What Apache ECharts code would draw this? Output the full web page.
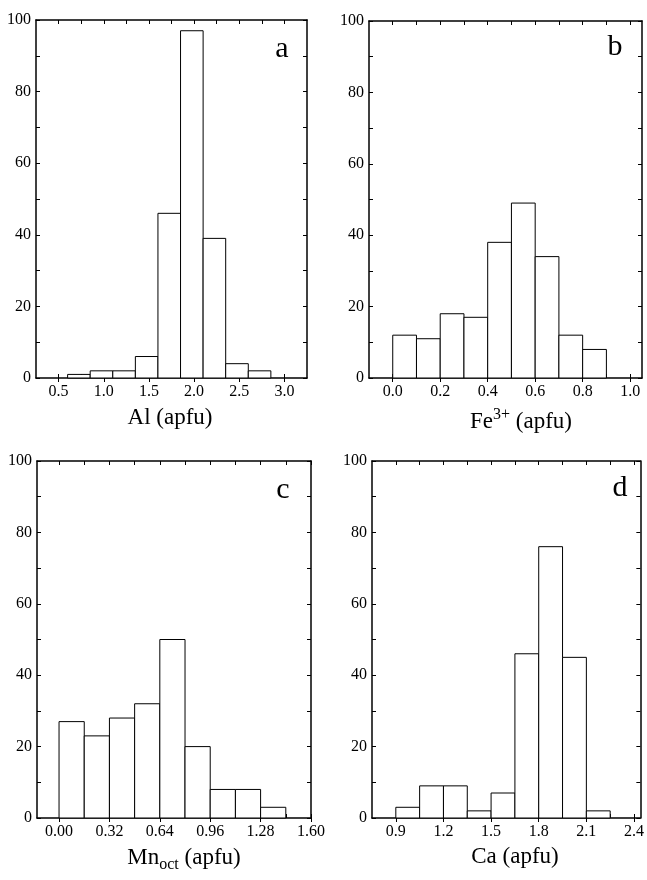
<!DOCTYPE html>
<html>
<head>
<meta charset="utf-8">
<script src="https://cdn.jsdelivr.net/npm/echarts@6/dist/echarts.min.js"></script>
<style>html,body{margin:0;padding:0;background:#fff}#c{width:647px;height:880px}</style>
</head>
<body>
<div id="c"></div>
<script>
// ---- data ----
const alBinStarts = [0.6, 0.85, 1.1, 1.35, 1.6, 1.85, 2.1, 2.35, 2.6];
const alBinWidth = 0.25;
const alCounts = [1, 2, 2, 6, 46, 97, 39, 4, 2];
const alTicks = [0.5, 1.0, 1.5, 2.0, 2.5, 3.0];
const alMinorTicks = [0.5, 0.75, 1.0, 1.25, 1.5, 1.75, 2.0, 2.25, 2.5, 2.75, 3.0];

const feBinStarts = [0.0, 0.1, 0.2, 0.3, 0.4, 0.5, 0.6, 0.7, 0.8];
const feBinWidth = 0.1;
const feCounts = [12, 11, 18, 17, 38, 49, 34, 12, 8];
const feTicks = [0.0, 0.2, 0.4, 0.6, 0.8, 1.0];
const feMinorTicks = [0.0, 0.1, 0.2, 0.3, 0.4, 0.5, 0.6, 0.7, 0.8, 0.9, 1.0];

const mnBinStarts = [0.0, 0.16, 0.32, 0.48, 0.64, 0.80, 0.96, 1.12, 1.28];
const mnBinWidth = 0.16;
const mnCounts = [27, 23, 28, 32, 50, 20, 8, 8, 3];
const mnTicks = [0.00, 0.32, 0.64, 0.96, 1.28, 1.60];
const mnMinorTicks = [0.0, 0.16, 0.32, 0.48, 0.64, 0.80, 0.96, 1.12, 1.28, 1.44, 1.60];

const caBinStarts = [0.9, 1.05, 1.2, 1.35, 1.5, 1.65, 1.8, 1.95, 2.1];
const caBinWidth = 0.15;
const caCounts = [3, 9, 9, 2, 7, 46, 76, 45, 2];
const caTicks = [0.9, 1.2, 1.5, 1.8, 2.1, 2.4];
const caMinorTicks = [0.9, 1.05, 1.2, 1.35, 1.5, 1.65, 1.8, 1.95, 2.1, 2.25, 2.4];

const yMin = 0, yMax = 100, yInterval = 20;

// ---- layout ----
const FONT = '"Liberation Serif", "Times New Roman", serif';
const panels = [
  {starts: alBinStarts, w: alBinWidth, counts: alCounts, ticks: alTicks, minor: alMinorTicks, min: 0.25, max: 3.25, dec: 1,
   grid: {left: 36, top: 20, width: 271, height: 358}},
  {starts: feBinStarts, w: feBinWidth, counts: feCounts, ticks: feTicks, minor: feMinorTicks, min: -0.1, max: 1.05, dec: 1,
   grid: {left: 369, top: 21, width: 273, height: 357}},
  {starts: mnBinStarts, w: mnBinWidth, counts: mnCounts, ticks: mnTicks, minor: mnMinorTicks, min: -0.14, max: 1.60, dec: 2,
   grid: {left: 37, top: 461, width: 274, height: 357}},
  {starts: caBinStarts, w: caBinWidth, counts: caCounts, ticks: caTicks, minor: caMinorTicks, min: 0.75, max: 2.44, dec: 1,
   grid: {left: 372, top: 461, width: 272, height: 357}}
];

const grids = [], xAxes = [], yAxes = [], series = [];
const lineStyle = {color: '#000', width: 1.5};
panels.forEach((p, i) => {
  grids.push(Object.assign({containLabel: false}, p.grid));
  xAxes.push({
    gridIndex: i, type: 'value', position: 'bottom', min: p.min, max: p.max,
    axisLine: {show: true, onZero: false, lineStyle},
    axisTick: {show: true, customValues: p.ticks, inside: false, length: 4, lineStyle: {color: '#000', width: 1}},
    axisLabel: {show: true, customValues: p.ticks, formatter: v => Number(v).toFixed(p.dec),
      fontFamily: FONT, fontSize: 16, color: '#000', margin: 6},
    splitLine: {show: false}
  });
  xAxes.push({
    gridIndex: i, type: 'value', position: 'bottom', min: p.min, max: p.max,
    axisLine: {show: false, onZero: false},
    axisTick: {show: true, customValues: p.minor, inside: true, length: 4, lineStyle: {color: '#000', width: 1}},
    axisLabel: {show: false}, splitLine: {show: false}
  });
  xAxes.push({
    gridIndex: i, type: 'value', position: 'top', min: p.min, max: p.max,
    axisLine: {show: true, onZero: false, lineStyle},
    axisTick: {show: true, customValues: p.minor, inside: true, length: 4, lineStyle: {color: '#000', width: 1}},
    axisLabel: {show: false}, splitLine: {show: false}
  });
  yAxes.push({
    gridIndex: i, type: 'value', position: 'left', min: yMin, max: yMax, interval: yInterval,
    axisLine: {show: true, onZero: false, lineStyle},
    axisTick: {show: true, inside: true, length: 4, lineStyle: {color: '#000', width: 1}},
    minorTick: {show: true, splitNumber: 2, length: 4, lineStyle: {color: '#000', width: 1}},
    axisLabel: {fontFamily: FONT, fontSize: 16, color: '#000', margin: 5},
    splitLine: {show: false}
  });
  yAxes.push({
    gridIndex: i, type: 'value', position: 'right', min: yMin, max: yMax, interval: yInterval,
    axisLine: {show: true, onZero: false, lineStyle},
    axisTick: {show: true, inside: true, length: 4, lineStyle: {color: '#000', width: 1}},
    minorTick: {show: true, splitNumber: 2, length: 4, lineStyle: {color: '#000', width: 1}},
    axisLabel: {show: false}, splitLine: {show: false}
  });
  series.push({
    type: 'custom',
    xAxisIndex: 3 * i, yAxisIndex: 2 * i,
    data: p.starts.map((s, j) => [s, p.w, p.counts[j]]),
    encode: {x: 0, y: 2},
    renderItem: (params, api) => {
      const x0 = api.value(0), w = api.value(1), c = api.value(2);
      const a = api.coord([x0, 0]);
      const b = api.coord([x0 + w, c]);
      return {
        type: 'rect',
        shape: {x: a[0], y: b[1], width: b[0] - a[0], height: a[1] - b[1]},
        style: {fill: '#fff', stroke: '#000', lineWidth: 1}
      };
    },
    silent: true, animation: false
  });
});

const titleRich = {
  n: {fontFamily: FONT, fontSize: 23, color: '#000', lineHeight: 30},
  sup: {fontFamily: FONT, fontSize: 16, color: '#000', lineHeight: 14, verticalAlign: 'top'},
  sub: {fontFamily: FONT, fontSize: 16, color: '#000', lineHeight: 14, verticalAlign: 'bottom'}
};
function label(text, x, y) {
  return {type: 'text', x, y, silent: true,
    style: {text, rich: titleRich, align: 'center', verticalAlign: 'middle', fontFamily: FONT, fontSize: 23, fill: '#000'}};
}
function letter(text, x, y) {
  return {type: 'text', x, y, silent: true,
    style: {text, fontFamily: FONT, fontSize: 30, fill: '#000', align: 'center', verticalAlign: 'middle'}};
}

const chart = echarts.init(document.getElementById('c'), null, {renderer: 'canvas'});
chart.setOption({
  animation: false,
  backgroundColor: '#fff',
  grid: grids,
  xAxis: xAxes,
  yAxis: yAxes,
  series,
  graphic: [
    label('{n|Al (apfu)}', 170, 418),
    label('{n|Fe}{sup|3+}{n| (apfu)}', 521, 422),
    label('{n|Mn}{sub|oct}{n| (apfu)}', 184, 858),
    label('{n|Ca (apfu)}', 515, 857),
    letter('a', 282, 49),
    letter('b', 615, 47),
    letter('c', 283, 490),
    letter('d', 620, 488)
  ]
});
</script>
</body>
</html>
